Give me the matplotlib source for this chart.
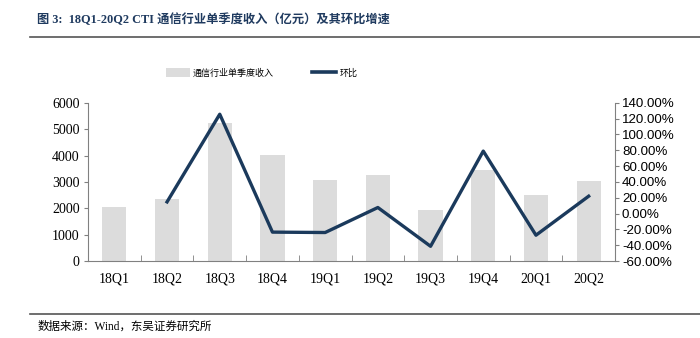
import matplotlib.pyplot as plt
import numpy as np
from matplotlib.lines import Line2D
from matplotlib.patches import Patch
from matplotlib.ticker import FuncFormatter, FixedLocator

plt.rcParams['font.family'] = ['Liberation Serif', 'Noto Sans CJK SC']

# === 数据 ===
quarters = ['18Q1', '18Q2', '18Q3', '18Q4', '19Q1', '19Q2', '19Q3', '19Q4', '20Q1', '20Q2']
revenue = [2050, 2350, 5230, 4020, 3060, 3270, 1950, 3440, 2490, 3020]
qoq_pct = [np.nan, 14.7, 125.5, -23.5, -24.0, 7.6, -41.4, 78.9, -27.4, 21.9]

bar_color = '#DCDCDC'
line_color = '#1B3A5C'
axis_color = '#808080'

fig = plt.figure(figsize=(7.0, 3.38), dpi=100)
ax1 = fig.add_axes([0.1257, 0.2278, 0.7529, 0.4682])
x = np.arange(len(quarters))

ax1.bar(x, revenue, width=0.46, color=bar_color, zorder=1)
ax1.set_xlim(-0.5, len(quarters) - 0.5)
ax1.set_ylim(0, 6000)
ax1.set_yticks(np.arange(0, 6001, 1000))
ax1.set_xticks(x)
ax1.set_xticklabels(quarters)
ax1.xaxis.set_minor_locator(FixedLocator(np.arange(-0.5, len(quarters), 1.0)))
ax1.tick_params(axis='x', which='major', length=0, pad=8, labelsize=10)
ax1.tick_params(axis='x', which='minor', length=4, color=axis_color, direction='in')
ax1.tick_params(axis='y', length=3, color=axis_color, labelsize=10, pad=3)

for s in ['top', 'right']:
    ax1.spines[s].set_visible(False)
for s in ['left', 'bottom']:
    ax1.spines[s].set_color(axis_color)

# 右轴：环比
ax2 = ax1.twinx()
ax2.plot(x, qoq_pct, color=line_color, linewidth=2.4, zorder=3)
ax2.set_ylim(-60, 140)
ax2.set_yticks(np.arange(-60, 141, 20))
ax2.yaxis.set_major_formatter(FuncFormatter(lambda v, p: f'{v:.2f}%'))
ax2.tick_params(axis='y', length=3, color=axis_color, pad=2)
for lab in ax2.get_yticklabels():
    lab.set_fontfamily('Liberation Sans')
    lab.set_fontsize(9.6)
for s in ['top', 'left', 'bottom']:
    ax2.spines[s].set_visible(False)
ax2.spines['right'].set_color(axis_color)

# 图例
handles = [Patch(facecolor=bar_color, edgecolor='none'),
           Line2D([0], [0], color=line_color, linewidth=2.6)]
fig.legend(handles, ['通信行业单季度收入', '环比'], loc='center left',
           bbox_to_anchor=(0.225, 0.784), ncol=2, frameon=False,
           prop={'family': 'Noto Sans CJK SC', 'size': 6.5},
           handlelength=2.7, handleheight=1.1, columnspacing=4.2, handletextpad=0.35)

# 标题与分隔线
fig.text(0.053, 0.94, '图 3:  18Q1-20Q2 CTI 通信行业单季度收入（亿元）及其环比增速',
         fontsize=8.8, fontweight='bold', color='#1F3A5F', va='center',
         family=['Liberation Serif', 'Noto Sans CJK SC'])
fig.add_artist(Line2D([0.043, 1.0], [0.89, 0.89], color='#555555', linewidth=1.2))
fig.add_artist(Line2D([0.043, 1.0], [0.071, 0.071], color='#555555', linewidth=1.2))
fig.text(0.053, 0.032, '数据来源：Wind，东吴证券研究所', fontsize=8.3, va='center',
         family=['Liberation Serif', 'Noto Sans CJK SC'])

fig.savefig('out.png', dpi=100)
